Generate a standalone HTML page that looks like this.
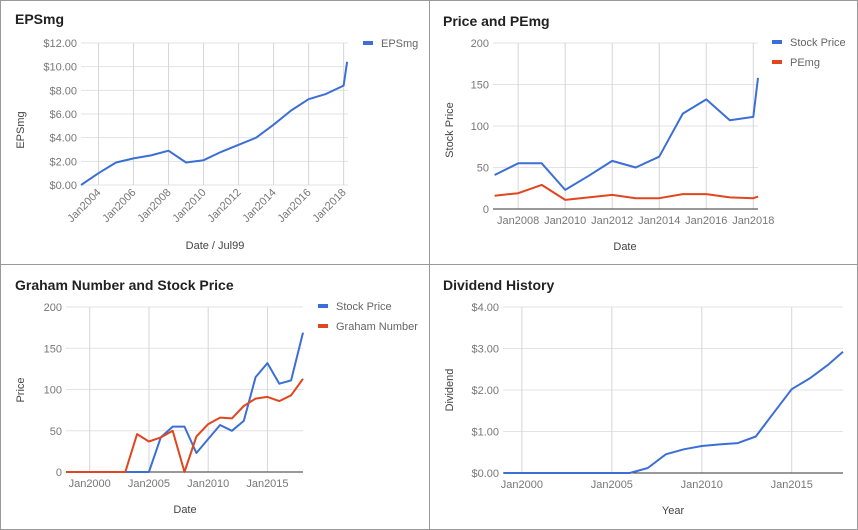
<!DOCTYPE html>
<html><head><meta charset="utf-8"><style>
body{margin:0;background:#fff;font-family:"Liberation Sans",Arial,sans-serif;}
#root{position:relative;width:858px;height:530px;overflow:hidden;}
svg text{font-family:"Liberation Sans",Arial,sans-serif;}
</style></head><body>
<div id="root">
<svg id="svg" width="858" height="530">
<rect x="0.5" y="0.5" width="857" height="529" fill="#fff" stroke="#999"/>
<line x1="429.5" y1="0" x2="429.5" y2="530" stroke="#999"/>
<line x1="0" y1="264.5" x2="858" y2="264.5" stroke="#999"/>
</svg>
</div>
<script>
// Chart 1: EPSmg
const epsYears=[2003,2004,2005,2006,2007,2008,2009,2010,2011,2012,2013,2014,2015,2016,2017,2018,2018.2];
const epsValues=[0,1.0,1.9,2.25,2.5,2.9,1.9,2.1,2.8,3.4,4.0,5.1,6.3,7.25,7.7,8.4,10.4];
const epsYTicks=[0,2,4,6,8,10,12];
const epsXTicks=[2004,2006,2008,2010,2012,2014,2016,2018];
// Chart 2: Price and PEmg
const pYears=[2007,2008,2009,2010,2011,2012,2013,2014,2015,2016,2017,2018,2018.2];
const pStock=[41,55,55,23,40,58,50,63,115,132,107,111,158];
const pPE=[16,19,29,11,14,17,13,13,18,18,14,13,15];
const pYTicks=[0,50,100,150,200];
const pXTicks=[2008,2010,2012,2014,2016,2018];
// Chart 3: Graham Number and Stock Price
const gYears=[1998,1999,2000,2001,2002,2003,2004,2005,2006,2007,2008,2009,2010,2011,2012,2013,2014,2015,2016,2017,2018];
const gStock=[0,0,0,0,0,0,0,0,42,55,55,23,40,57,50,62,115,132,107,111,169];
const gGraham=[0,0,0,0,0,0,46,37,42,50,0,43,58,66,65,80,89,91,86,93,113];
const gYTicks=[0,50,100,150,200];
const gXTicks=[2000,2005,2010,2015];
// Chart 4: Dividend History
const dYears=[1999,2000,2001,2002,2003,2004,2005,2006,2007,2008,2009,2010,2011,2012,2013,2014,2015,2016,2017,2017.85];
const dValues=[0,0,0,0,0,0,0,0,0.12,0.45,0.57,0.65,0.69,0.72,0.88,1.45,2.02,2.28,2.6,2.92];
const dYTicks=[0,1,2,3,4];
const dXTicks=[2000,2005,2010,2015];

const NS='http://www.w3.org/2000/svg';
const svg=document.getElementById('svg');
function mk(tag,attrs,parent){const e=document.createElementNS(NS,tag);for(const k in attrs)e.setAttribute(k,attrs[k]);(parent||svg).appendChild(e);return e;}
function txt(s,attrs,parent){const e=mk('text',attrs,parent);e.textContent=s;return e;}

function chart(c){
  const g=mk('g',{});
  
  
  const sx=v=>c.x0+(v-c.xmin)/(c.xmax-c.xmin)*(c.x1-c.x0);
  const sy=v=>c.y0-(v-c.ymin)/(c.ymax-c.ymin)*(c.y0-c.y1);
  const t=txt(c.title,{x:c.tx,y:c.ty,'font-size':14,'font-weight':'bold',fill:'#222'},g);
  
  
  c.yticks.forEach(v=>{
    const l=mk('line',{x1:c.x0,x2:c.x1,y1:sy(v),y2:sy(v),stroke:'#e3e3e3'},g);
    
    
    const lb=txt(c.yfmt(v),{x:c.x0-4,y:sy(v)+4,'font-size':11,fill:'#777','text-anchor':'end'},g);
    
    
  });
  c.xticks.forEach(v=>{
    const x=sx(v);
    const l=mk('line',{x1:x,x2:x,y1:c.y1,y2:c.y0,stroke:'#d6d6d6'},g);
    
    
    let lb;
    if(c.rot){lb=txt('Jan'+v,{x:x+3,y:c.y0+8,'font-size':11,fill:'#777','text-anchor':'end',transform:'rotate(-45 '+(x+3)+' '+(c.y0+8)+')'},g);}
    else{lb=txt('Jan'+v,{x:x,y:c.y0+15,'font-size':11,fill:'#777','text-anchor':'middle'},g);}
    
    
  });
  if(c.base){const b=mk('line',{x1:c.x0,x2:c.x1,y1:c.y0,y2:c.y0,stroke:'#333'},g);
    
    }
  c.series.forEach((s,i)=>{
    const d=s.vals.map((v,j)=>(j?'L':'M')+sx(s.xs[j]).toFixed(1)+','+sy(v).toFixed(1)).join(' ');
    const p=mk('path',{d:d,fill:'none',stroke:s.color,'stroke-width':2,'stroke-linejoin':'round'},g);
    
    
    if(c.legend){
      const ly=c.legend[1]+i*20;
      const r=mk('rect',{x:c.legend[0],y:ly-2,width:10,height:4,fill:s.color},g);
      
      
      const lt=txt(s.label,{x:c.legend[0]+18,y:ly+4,'font-size':11,fill:'#666'},g);
      
      
    }
  });
  const yt=txt(c.ytitle,{x:c.ytx,y:c.yty,'font-size':11,fill:'#444','text-anchor':'middle',transform:'rotate(-90 '+c.ytx+' '+c.yty+')'},g);
  
  
  const xt=txt(c.xtitle,{x:c.xtx,y:c.xty,'font-size':11,fill:'#444','text-anchor':'middle'},g);
  
  
}
const BLUE='#3c6fd6',RED='#e0461f';
const money=v=>'$'+v.toFixed(2);
chart({name:'epsmg-chart',title:'EPSmg',tx:15,ty:24,x0:81,x1:348,xmin:2003,xmax:2018.25,y0:185,y1:43,ymin:0,ymax:12,
  yticks:epsYTicks,xticks:epsXTicks,yfmt:money,rot:true,base:false,
  series:[{id:'epsmg',label:'EPSmg',xs:epsYears,vals:epsValues,color:BLUE}],legend:[363,43],
  ytitle:'EPSmg',ytx:24,yty:130,xtitle:'Date / Jul99',xtx:215,xty:249});
chart({name:'price-pemg-chart',title:'Price and PEmg',tx:443,ty:26,x0:493,x1:758,xmin:2006.93,xmax:2018.2,y0:209,y1:43,ymin:0,ymax:200,
  yticks:pYTicks,xticks:pXTicks,yfmt:v=>String(v),rot:false,base:true,
  series:[{id:'stock-price',label:'Stock Price',xs:pYears,vals:pStock,color:BLUE},{id:'pemg',label:'PEmg',xs:pYears,vals:pPE,color:RED}],legend:[772,42],
  ytitle:'Stock Price',ytx:453,yty:130,xtitle:'Date',xtx:625,xty:250});
chart({name:'graham-chart',title:'Graham Number and Stock Price',tx:15,ty:290,x0:66,x1:303,xmin:1998,xmax:2018,y0:472,y1:307,ymin:0,ymax:200,
  yticks:gYTicks,xticks:gXTicks,yfmt:v=>String(v),rot:false,base:true,
  series:[{id:'stock-price',label:'Stock Price',xs:gYears,vals:gStock,color:BLUE},{id:'graham-number',label:'Graham Number',xs:gYears,vals:gGraham,color:RED}],legend:[318,306],
  ytitle:'Price',ytx:24,yty:390,xtitle:'Date',xtx:185,xty:513});
chart({name:'dividend-chart',title:'Dividend History',tx:443,ty:290,x0:503,x1:843,xmin:1998.95,xmax:2017.85,y0:473,y1:307,ymin:0,ymax:4,
  yticks:dYTicks,xticks:dXTicks,yfmt:money,rot:false,base:true,
  series:[{id:'dividend',label:'Dividend',xs:dYears,vals:dValues,color:BLUE}],legend:null,
  ytitle:'Dividend',ytx:453,yty:390,xtitle:'Year',xtx:673,xty:514});
</script>
</body></html>
